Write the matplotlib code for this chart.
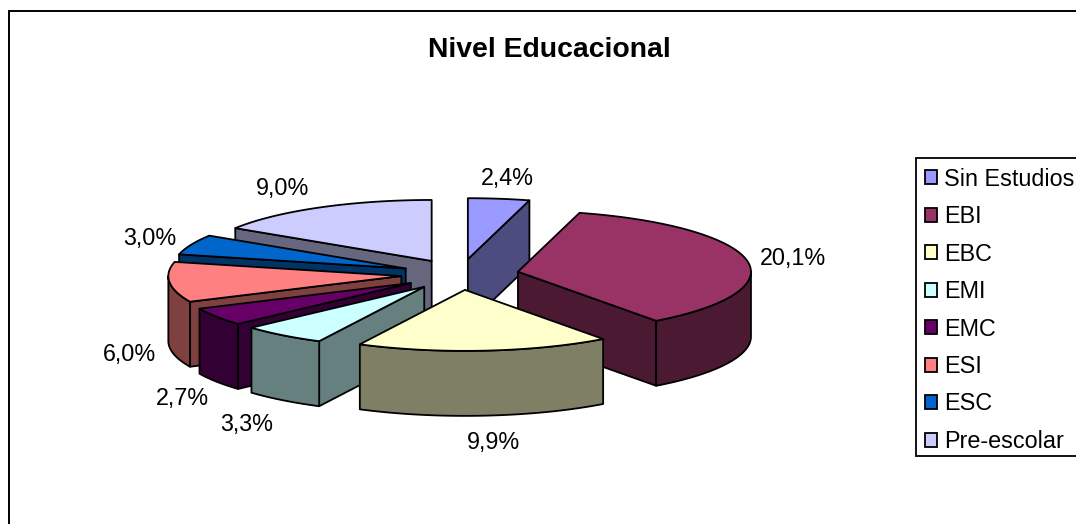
import numpy as np
import matplotlib
matplotlib.use("Agg")
import matplotlib.pyplot as plt
from matplotlib.patches import Polygon, Patch, Rectangle

title = "Nivel Educacional"
categories = ["Sin Estudios", "EBI", "EBC", "EMI", "EMC", "ESI", "ESC", "Pre-escolar"]
values = [2.4, 20.1, 9.9, 3.3, 2.7, 6.0, 3.0, 9.0]
labels = ["2,4%", "20,1%", "9,9%", "3,3%", "2,7%", "6,0%", "3,0%", "9,0%"]
colors = ["#9999FF", "#993366", "#FFFFCC", "#CCFFFF", "#660066", "#FF8080", "#0066CC", "#CCCCFF"]
side_colors = ["#4C4C7F", "#4C1933", "#7F7F66", "#667F7F", "#330033", "#7F4040", "#003366", "#66667F"]

# layout (pixels of the 1076x524 canvas)
CX, CY, A, B, DEPTH, EXPLODE = 460, 274.5, 233, 61, 65, 0.253
DRAW_ORDER = [7, 6, 5, 4, 3, 0, 1, 2]
LABEL_XY = [(507, 179), (793, 259), (493, 443), (247, 424), (182, 399), (129, 355), (150, 238), (283, 188)]

plt.rcParams["font.family"] = ["Liberation Sans", "DejaVu Sans"]
fig = plt.figure(figsize=(10.76, 5.24), dpi=100)
ax = fig.add_axes([0, 0, 1, 1])
ax.set_xlim(0, 1076)
ax.set_ylim(524, 0)
ax.axis("off")

ax.add_patch(Rectangle((9, 11), 1100, 540, fc="white", ec="black", lw=1.4, zorder=0))
ax.add_patch(Rectangle((916, 158), 200, 298, fc="white", ec="black", lw=1.3, zorder=199))

fracs = np.array(values) / sum(values) * 360.0
ends = np.cumsum(fracs)
starts = ends - fracs
LW = 1.3


def pt(theta, ox, oy):
    t = np.radians(theta)
    return np.column_stack([ox + A * np.sin(t), oy - B * np.cos(t)])


def poly(xy, fc, z):
    ax.add_patch(Polygon(xy, closed=True, fc=fc, ec="black", lw=LW, joinstyle="round", zorder=z))


z = 2
for i in DRAW_ORDER:
    s, e = starts[i], ends[i]
    mid = np.radians((s + e) / 2)
    ox = CX + EXPLODE * A * np.sin(mid)
    oy = CY - EXPLODE * B * np.cos(mid)
    apex = np.array([[ox, oy]])
    down = np.array([0, DEPTH])
    # radial faces that look towards the viewer
    if 180 < s < 360:
        edge = np.vstack([apex, pt(np.array([s]), ox, oy)])
        poly(np.vstack([edge, edge[::-1] + down]), side_colors[i], z)
        z += 1
    if 0 < e < 180:
        edge = np.vstack([apex, pt(np.array([e]), ox, oy)])
        poly(np.vstack([edge, edge[::-1] + down]), side_colors[i], z)
        z += 1
    # outer wall, visible part only
    lo, hi = max(s, 90), min(e, 270)
    if hi > lo:
        rim = pt(np.linspace(lo, hi, 40), ox, oy)
        poly(np.vstack([rim, rim[::-1] + down]), side_colors[i], z)
        z += 1
    # top face
    poly(np.vstack([apex, pt(np.linspace(s, e, 60), ox, oy)]), colors[i], z)
    z += 1

for text, (x, y) in zip(labels, LABEL_XY):
    ax.text(x, y, text, ha="center", va="center", fontsize=16.8, color="black", zorder=100)

ax.text(549, 50, title, ha="center", va="center", fontsize=20.4, fontweight="bold", zorder=100)

handles = [Patch(fc=c, ec="black", lw=1.3) for c in colors]
leg = ax.legend(handles, categories, loc="upper left", bbox_to_anchor=(916 / 1076, 1 - 159 / 524),
                borderaxespad=0, fontsize=16.8, frameon=False,
                handlelength=0.54, handleheight=0.54, handletextpad=0.30,
                labelspacing=0.62, borderpad=0.37)
leg.set_zorder(200)

fig.savefig("out.png", dpi=100)
